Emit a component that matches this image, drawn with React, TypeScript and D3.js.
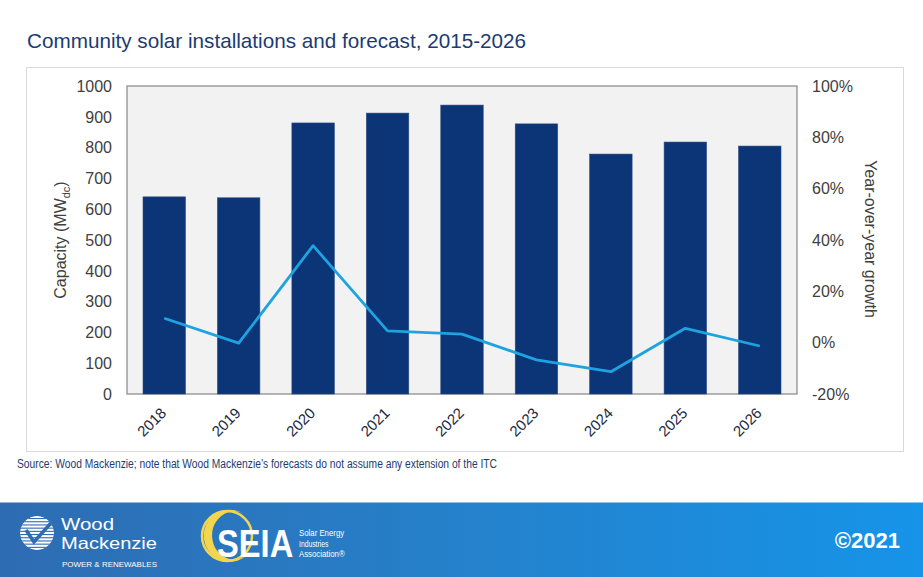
import React from 'react';
import * as d3 from 'd3';

const years = ['2018', '2019', '2020', '2021', '2022', '2023', '2024', '2025', '2026'];
const capacity = [640, 637, 880, 912, 938, 877, 779, 818, 805];
const growth = [9.5, -0.2, 37.8, 4.6, 3.3, -6.7, -11.3, 5.6, -1.3];
const leftTicks = [0, 100, 200, 300, 400, 500, 600, 700, 800, 900, 1000];
const rightTicks = [-20, 0, 20, 40, 60, 80, 100];

const W = 923;
const H = 577;
const plot = { left: 127, right: 797, top: 86, bottom: 394 };
const FONT = "'Liberation Sans', Arial, sans-serif";

export default function App() {
  const x = d3
    .scaleBand<string>()
    .domain(years)
    .range([plot.left, plot.right])
    .paddingInner(0.43)
    .paddingOuter(0.215);
  const yL = d3.scaleLinear().domain([0, 1000]).range([plot.bottom, plot.top]);
  const yR = d3.scaleLinear().domain([-20, 100]).range([plot.bottom, plot.top]);
  const line = d3
    .line<number>()
    .x((_, i) => (x(years[i]) as number) + x.bandwidth() / 2)
    .y((d) => yR(d));

  const axisColor = '#404040';

  const globeCx = 37;
  const globeCy = 533;
  const globeR = 17;
  const stripes = d3.range(-15, 16, 3.2);

  return (
    <svg
      width={W}
      height={H}
      style={{ position: 'absolute', left: 0, top: 0, background: '#fff' }}
    >
      <defs>
        <linearGradient id="foot" x1="0" x2="1" y1="0" y2="0">
          <stop offset="0" stopColor="#2e6cb2" />
          <stop offset="0.5" stopColor="#2581cb" />
          <stop offset="1" stopColor="#1694e8" />
        </linearGradient>
        <clipPath id="globeClip">
          <circle cx={globeCx} cy={globeCy} r={globeR} />
        </clipPath>
      </defs>
      <rect x={0} y={0} width={W} height={H} fill="#fff" />
      <text x={27} y={48} fontFamily={FONT} fontSize={20.7} fill="#1c3b72">
        Community solar installations and forecast, 2015-2026
      </text>

      <rect x={26.5} y={67.5} width={877} height={384} fill="none" stroke="#d9d9d9" strokeWidth={1} />

      <rect
        x={plot.left}
        y={plot.top}
        width={plot.right - plot.left}
        height={plot.bottom - plot.top}
        fill="#f2f2f2"
        stroke="#868686"
        strokeWidth={1.2}
      />

      {years.map((yr, i) => (
        <rect
          key={yr}
          x={x(yr)}
          y={yL(capacity[i])}
          width={x.bandwidth()}
          height={yL(0) - yL(capacity[i])}
          fill="#0b3576"
          stroke="#2a4a82"
          strokeWidth={0.6}
        />
      ))}

      <path d={line(growth) || ''} fill="none" stroke="#1fa3e0" strokeWidth={2.8} strokeLinejoin="round" />

      {leftTicks.map((t) => (
        <text
          key={t}
          x={112}
          y={yL(t)}
          dy="0.36em"
          textAnchor="end"
          fontFamily={FONT}
          fontSize={16}
          fill={axisColor}
        >
          {t}
        </text>
      ))}
      {rightTicks.map((t) => (
        <text
          key={t}
          x={812}
          y={yR(t)}
          dy="0.36em"
          textAnchor="start"
          fontFamily={FONT}
          fontSize={16}
          fill={axisColor}
        >
          {t + '%'}
        </text>
      ))}

      {years.map((yr) => (
        <text
          key={yr}
          transform={`translate(${(x(yr) as number) + x.bandwidth() / 2 + 3},414) rotate(-45)`}
          textAnchor="end"
          fontFamily={FONT}
          fontSize={15}
          fill="#1a2a44"
        >
          {yr}
        </text>
      ))}

      <text
        transform={`translate(66,240) rotate(-90)`}
        textAnchor="middle"
        fontFamily={FONT}
        fontSize={16}
        fill={axisColor}
      >
        Capacity (MW
        <tspan fontSize={11} dy={4}>dc</tspan>
        <tspan dy={-4}>)</tspan>
      </text>
      <text
        transform={`translate(865,239) rotate(90)`}
        textAnchor="middle"
        fontFamily={FONT}
        fontSize={16}
        fill={axisColor}
      >
        Year-over-year growth
      </text>

      <text
        x={17}
        y={468}
        fontFamily={FONT}
        fontSize={12}
        fill="#1c3b72"
        textLength={480}
        lengthAdjust="spacingAndGlyphs"
      >
        Source: Wood Mackenzie; note that Wood Mackenzie’s forecasts do not assume any extension of the ITC
      </text>

      <rect x={0} y={502.5} width={W} height={H - 502.5} fill="url(#foot)" />

      <g clipPath="url(#globeClip)">
        <circle cx={globeCx} cy={globeCy} r={globeR} fill="#ffffff" />
        {stripes.map((s) => (
          <rect key={s} x={globeCx - globeR} y={globeCy + s} width={globeR * 2} height={1.1} fill="#2e6cb2" />
        ))}
        <path
          d={`M${globeCx - 11},${globeCy - 3} L${globeCx - 3},${globeCy + 9} L${globeCx + 14},${globeCy - 10}`}
          fill="none"
          stroke="#2e6cb2"
          strokeWidth={3.5}
        />
      </g>
      <text x={61} y={530} fontFamily={FONT} fontSize={16.5} fill="#fff" textLength={53} lengthAdjust="spacingAndGlyphs">
        Wood
      </text>
      <text x={61} y={549} fontFamily={FONT} fontSize={16.5} fill="#fff" textLength={96} lengthAdjust="spacingAndGlyphs">
        Mackenzie
      </text>
      <text x={62} y={567} fontFamily={FONT} fontSize={8} fill="#fff" textLength={95} lengthAdjust="spacingAndGlyphs">
        POWER &amp; RENEWABLES
      </text>

      <path d="M 244 514 A 26 26 0 1 0 250 552 A 22 24 0 1 1 244 514 Z" fill="#f3d54e" />
      <circle cx={227} cy={536} r={25} fill="none" stroke="#f3d54e" strokeWidth={2.5} />
      <text
        transform="translate(217,557) scale(0.86,1)"
        fontFamily={FONT}
        fontWeight="bold"
        fontSize={38}
        fill="#fff"
      >
        SEIA
      </text>
      <text transform="translate(299,536) scale(0.92,1)" fontFamily={FONT} fontSize={8.5} fill="#fff">
        Solar Energy
      </text>
      <text transform="translate(299,546.5) scale(0.8,1)" fontFamily={FONT} fontSize={8.5} fill="#fff">
        Industries
      </text>
      <text transform="translate(299,557) scale(0.92,1)" fontFamily={FONT} fontSize={8.5} fill="#fff">
        Association®
      </text>

      <text x={900} y={548} textAnchor="end" fontFamily={FONT} fontWeight="bold" fontSize={22} fill="#fff">
        ©2021
      </text>
    </svg>
  );
}
